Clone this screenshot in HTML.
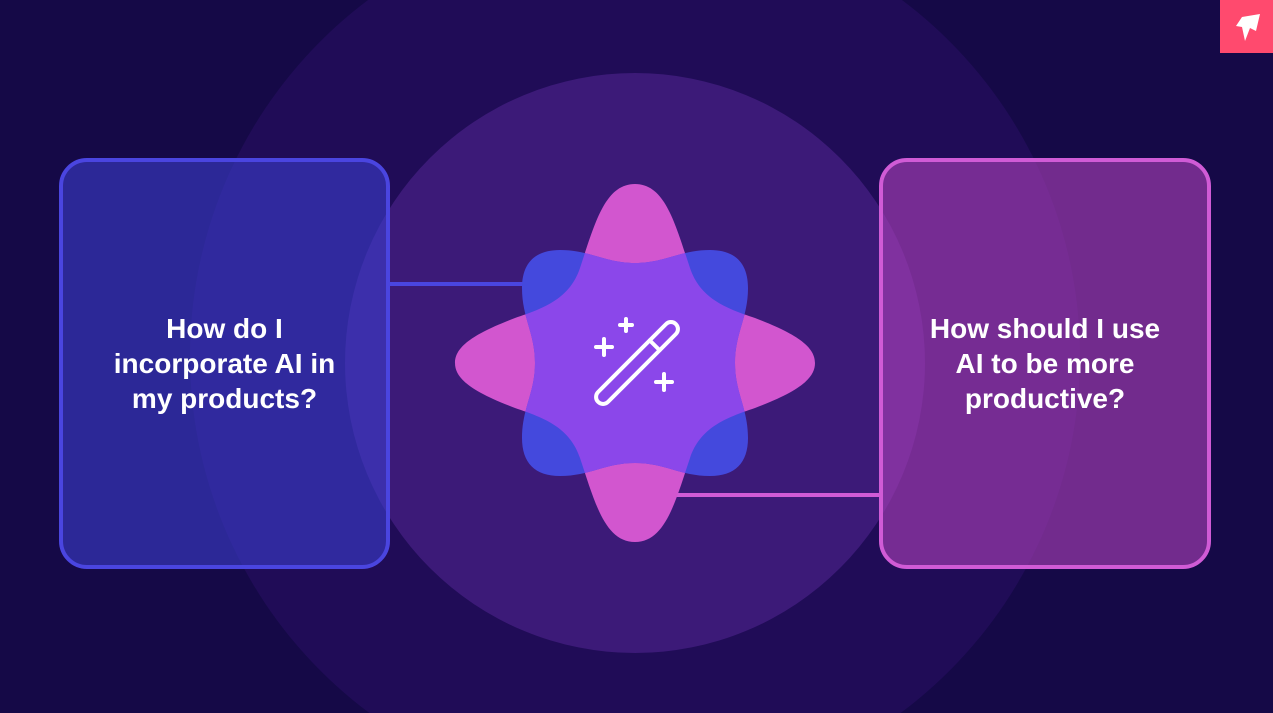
<!DOCTYPE html>
<html style="overflow:hidden"><head><meta charset="utf-8"><style>
html,body{margin:0;padding:0;width:1273px;height:713px;overflow:hidden}
body{background:#150947;position:relative;font-family:"Liberation Sans",sans-serif}
.box{position:absolute;box-sizing:border-box;border-radius:28px;display:flex;align-items:center;justify-content:center;text-align:center;color:#fff;font-weight:bold;font-size:28px;line-height:35px}
</style></head><body>
<svg width="1273" height="713" style="position:absolute;left:0;top:0;display:block">
<circle cx="635" cy="356" r="445" fill="#200c57"/>
<circle cx="635" cy="363" r="290" fill="#3c1a78"/>
<line x1="389" y1="284" x2="530" y2="284" stroke="#4a45e0" stroke-width="4"/>
<line x1="670" y1="495" x2="880" y2="495" stroke="#d05bd6" stroke-width="4"/>
<defs>
<path id="pink" d="M0,-179 C30,-179 40,-140 55,-95 C65,-65 90,-55 120,-45 C165,-28 180,-15 180,0 C180,15 165,28 120,45 C90,55 65,65 55,95 C40,140 30,179 0,179 C-30,179 -40,140 -55,95 C-65,65 -90,55 -120,45 C-165,28 -180,15 -180,0 C-180,-15 -165,-28 -120,-45 C-90,-55 -65,-65 -55,-95 C-40,-140 -30,-179 0,-179 Z"/>
<path id="blue" d="M0,-100 C30,-100 45,-113 75,-113 C100,-113 113,-100 113,-75 C113,-45 100,-30 100,0 C100,30 113,45 113,75 C113,100 100,113 75,113 C45,113 30,100 0,100 C-30,100 -45,113 -75,113 C-100,113 -113,100 -113,75 C-113,45 -100,30 -100,0 C-100,-30 -113,-45 -113,-75 C-113,-100 -100,-113 -75,-113 C-45,-113 -30,-100 0,-100 Z"/>
<clipPath id="cp"><use href="#pink"/></clipPath>
</defs>
<g transform="translate(635,363)">
<use href="#pink" fill="#d256cf"/>
<use href="#blue" fill="#4449dd"/>
<g clip-path="url(#cp)"><use href="#blue" fill="#8b47ea"/></g>
</g>
<g stroke="#fff" stroke-width="4" fill="none" stroke-linecap="round">
<g transform="translate(637,363) rotate(-45)">
<rect x="-55" y="-7" width="110" height="14" rx="7"/>
<line x1="25" y1="-7" x2="25" y2="7"/>
</g>
<path d="M596,347 h16 M604,339 v16"/>
<path d="M620,325 h12 M626,319 v12"/>
<path d="M656,382 h16 M664,374 v16"/>
</g>
<rect x="1220" y="0" width="53" height="53" fill="#ff4a6e"/>
<path d="M1236,26 L1242,17 L1260,14 L1256,31 L1250,28 L1245,41 L1242,27 Z" fill="#fff"/>
</svg>
<div class="box" style="left:59px;top:158px;width:331px;height:411px;border:4px solid #4a45e0;background:rgba(60,62,205,0.6)">How do I<br>incorporate AI in<br>my products?</div>
<div class="box" style="left:879px;top:158px;width:332px;height:411px;border:4px solid #d05bd6;background:rgba(165,62,180,0.65)">How should I use<br>AI to be more<br>productive?</div>
</body></html>
